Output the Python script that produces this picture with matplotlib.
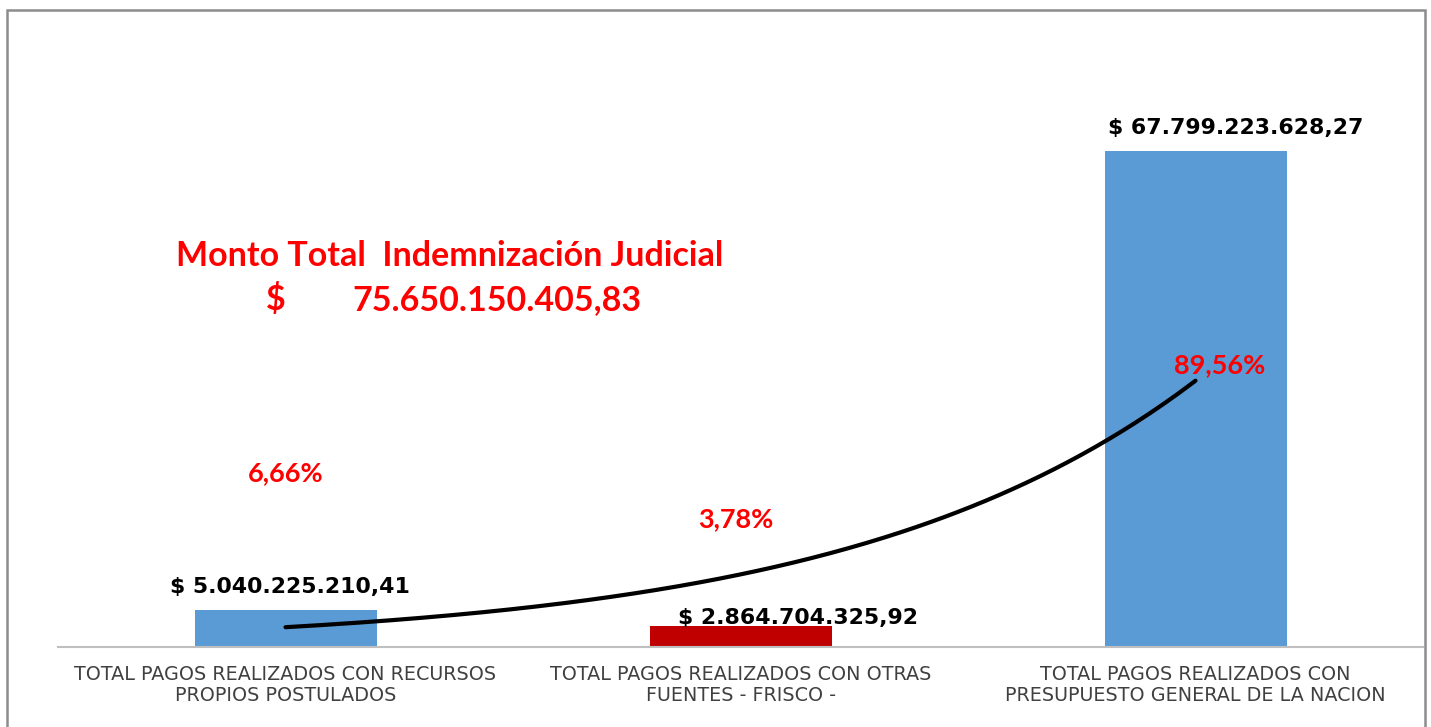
import numpy as np
import matplotlib.pyplot as plt
from matplotlib.patches import Rectangle

categories = ["TOTAL PAGOS REALIZADOS CON RECURSOS\nPROPIOS POSTULADOS",
              "TOTAL PAGOS REALIZADOS CON OTRAS\nFUENTES - FRISCO -",
              "TOTAL PAGOS REALIZADOS CON\nPRESUPUESTO GENERAL DE LA NACION"]
values = [5040225210.41, 2864704325.92, 67799223628.27]
value_labels = ["$ 5.040.225.210,41", "$ 2.864.704.325,92", "$ 67.799.223.628,27"]
pct_labels = ["6,66%", "3,78%", "89,56%"]
bar_colors = ["#5B9BD5", "#C00000", "#5B9BD5"]
total_label = "75.650.150.405,83"

W, H = 1431, 727
fig = plt.figure(figsize=(W / 100, H / 100), dpi=100)

# outer chart frame (bottom edge is cut off in the reference)
fig.patches.append(Rectangle((7 / W, -0.05), (1425 - 7) / W, 1.05 - 10 / H,
                             transform=fig.transFigure, fill=False,
                             edgecolor="#8C8C8C", linewidth=1.8))

ax = fig.add_axes([58 / W, 80 / H, (1423 - 58) / W, 585 / H])
x = np.arange(len(values))
ax.bar(x, values, width=0.4, color=bar_colors, zorder=2)
ax.set_xlim(-0.5, 2.5)
ax.set_ylim(0, 80e9)

for s in ["top", "right", "left"]:
    ax.spines[s].set_visible(False)
ax.spines["bottom"].set_color("#BFBFBF")
ax.spines["bottom"].set_linewidth(1.5)
ax.set_yticks([])
ax.set_xticks(x)
ax.set_xticklabels(categories, fontsize=13.8, color="#404040", linespacing=1.15)
ax.tick_params(axis="x", length=0, pad=13)

# exponential trendline through the bar values
k, c = np.polyfit(x, np.log(values), 1)
xs = np.linspace(0, 2, 200)
ax.plot(xs, np.exp(c + k * xs), color="black", linewidth=3, zorder=3,
        solid_capstyle="round")

# value labels (manually shifted like in the original)
label_offsets = [(4, 13), (57, -2), (40, 13)]
for xi, v, lab, off in zip(x, values, value_labels, label_offsets):
    ax.annotate(lab, (xi, v), xytext=off, textcoords="offset pixels",
                ha="center", va="bottom", fontsize=15.8, fontweight="bold",
                color="black", zorder=4)

# percentage labels
pct_pos = [(0, 23.8e9), (0.99, 17.5e9), (2.052, 38.5e9)]
for (px, py), lab in zip(pct_pos, pct_labels):
    ax.text(px, py, lab, ha="center", va="center", fontsize=19.5,
            fontweight="bold", color="#FF0000", family="Lato", zorder=4)

fig.text(450 / W, 1 - 256 / H, "Monto Total  Indemnización Judicial",
         ha="center", va="center", fontsize=24.5, fontweight="bold",
         color="#FF0000", family="Lato")
fig.text(276 / W, 1 - 300 / H, "$", ha="center", va="center", fontsize=24.5,
         fontweight="bold", color="#FF0000", family="Lato")
fig.text(497 / W, 1 - 300 / H, total_label, ha="center", va="center",
         fontsize=24.5, fontweight="bold", color="#FF0000", family="Lato")

fig.savefig("out.png", dpi=100, facecolor="white")
